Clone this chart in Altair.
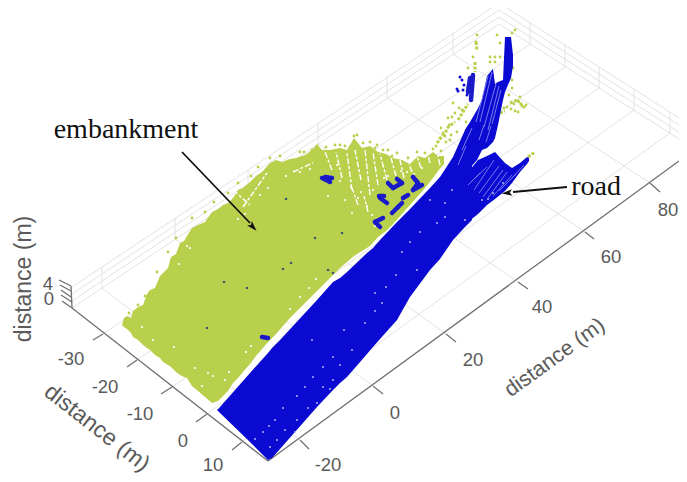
import altair as alt
import pandas as pd

W, H = 671, 466
GREEN = "#b8d04c"
BLUE = "#0a0ad2"
GRID = "#e2e2e2"
AXIS = "#707070"
TEXT = "#5a5a5a"

# --- picture-space geometry of the 3-D box -----------------------------
right_ticks = [(300, 440), (373, 386), (446, 334), (518, 282), (585, 232), (650, 183)]
right_ticks_end = [(309, 449), (383, 394), (456, 342), (528, 289), (594, 239), (660, 192)]
left_wall_base = [(102, 288), (175, 239), (248, 191), (318, 144), (387, 98), (453, 54)]
left_ticks = [(103, 334), (137, 360), (172, 387), (207, 414), (242, 442)]
left_ticks_end = [(93, 340), (127, 367), (161, 394), (196, 422), (232, 450)]
right_wall_base = [(530, 44), (565, 67), (599, 88), (634, 110), (670, 133)]
wall_height = [0, 7, 14, 21]
z_ticks = [(72, 308, 62, 301), (72, 302, 61, 295), (71, 297, 61, 290), (71, 291, 60, 285), (71, 286, 59, 280)]

grid = []
for a, b in zip(right_ticks, left_wall_base):
    grid.append((a[0], a[1], b[0], b[1]))
    grid.append((b[0], b[1], b[0], b[1] - 21))
for a, b in zip(left_ticks, right_wall_base):
    grid.append((a[0], a[1], b[0], b[1]))
    grid.append((b[0], b[1], b[0], b[1] - 21))
for h in wall_height:
    grid.append((72, 308 - h, 499, 24 - h))
    grid.append((499, 24 - h, 679, 139 - h))
axes = [(268, 461, 72, 308), (268, 461, 679, 161), (72, 308, 71, 286)]
for a, b in zip(right_ticks + left_ticks, right_ticks_end + left_ticks_end):
    axes.append((a[0], a[1], b[0], b[1]))
axes += z_ticks

tick_text = ["-30", "-20", "-10", "0", "10", "-20", "0", "20", "40", "60", "80", "4", "0"]
tick_x = [71, 105, 140, 183, 213, 328, 395, 473, 542, 611, 668, 48, 49]
tick_y = [359, 387, 414, 441, 465, 465, 413, 360, 307, 257, 210, 284, 299]

# --- embankment and road outlines: x, upper y, lower y -----------------
emb = [(122, 325, 325), (124, 318, 327), (127, 316, 329), (131, 318, 333), (133, 311, 337), (138, 307, 340),
       (143, 305, 345), (147, 294, 348), (150, 290, 350), (155, 288, 355), (160, 276, 358), (163, 273, 362),
       (168, 268, 365), (171, 257, 367), (176, 254, 372), (180, 243, 375), (184, 241, 377), (187, 236, 378),
       (192, 228, 386), (198, 225, 391), (205, 222, 397), (212, 212, 403), (218, 209, 401), (223, 205, 396),
       (228, 203, 391), (233, 198, 383), (238, 190, 378), (243, 188, 372), (250, 182, 364), (256, 176, 356),
       (262, 172, 349), (270, 163, 340), (276, 160, 334), (282, 162, 327), (290, 159, 318), (296, 158, 312),
       (305, 155, 303), (312, 150, 296), (317, 144, 291), (322, 150, 286), (330, 150, 278), (340, 148, 268),
       (347, 150, 262), (354, 138, 256), (362, 148, 251), (370, 146, 246), (378, 152, 237), (386, 154, 231),
       (393, 158, 224), (402, 160, 214), (410, 164, 205), (418, 156, 196), (425, 158, 188), (433, 152, 178),
       (438, 156, 171), (444, 156, 164)]
road_body = [(217, 410, 410), (220, 407, 413), (250, 373, 442), (268, 353, 460), (272, 348, 458), (280, 340, 449),
             (317, 300, 407), (333, 282, 390), (340, 278, 383), (347, 272, 377), (367, 253, 354), (373, 248, 347),
             (380, 240, 339), (397, 222, 320), (410, 209, 297), (430, 188, 270), (440, 177, 259), (453, 157, 240),
             (465, 130, 227), (472, 120, 220)]
road_arm = [(465, 130, 172), (470, 122, 168), (477, 110, 160), (482, 100, 150), (487, 76, 148), (493, 69, 142),
            (495, 84, 138), (498, 82, 125), (503, 80, 100), (505, 37, 92), (511, 37, 78), (513, 55, 66)]
road_fan = [(468, 172, 222), (478, 160, 214), (487, 156, 205), (495, 152, 199), (505, 163, 191), (512, 168, 183),
            (520, 163, 172), (527, 157, 164), (529, 158, 161)]

# stripes of light seen inside the scanned far part of the road
stripes = [(476, 122, 488, 76), (480, 122, 492, 72), (484, 127, 496, 84), (488, 130, 499, 86), (492, 124, 501, 90),
           (479, 140, 484, 125), (486, 142, 491, 126), (473, 180, 487, 167), (474, 190, 494, 160), (479, 193, 499, 166),
           (483, 197, 503, 170), (488, 198, 507, 172), (493, 196, 512, 175), (499, 191, 516, 174), (468, 185, 480, 173),
           (462, 150, 472, 128), (458, 165, 466, 146), (512, 178, 524, 165)]

# white gaps that cut into the embankment from its far edge
white_gaps = [(233, 190, 250, 205), (243, 207, 267, 173), (293, 172, 313, 163), (332, 170, 325, 152), (342, 178, 336, 152),
              (352, 190, 347, 153), (361, 180, 355, 150), (370, 195, 365, 150), (378, 185, 373, 152), (387, 180, 380, 154),
              (396, 176, 391, 158), (404, 178, 400, 160), (412, 172, 409, 164), (421, 168, 417, 156), (430, 163, 428, 155),
              (358, 205, 352, 188), (368, 212, 364, 196), (440, 165, 438, 156)]

green_tufts = [(528, 157, 535, 152), (517, 100, 525, 108), (510, 103, 517, 100), (500, 113, 505, 111),
               (437, 143, 447, 130), (447, 128, 455, 122), (458, 120, 468, 104), (476, 42, 477, 50), (475, 62, 475, 72)]
green_x = [477, 476, 473, 468, 497, 500, 490, 495, 500, 490, 495, 515, 512, 505, 513, 512, 512, 509, 453, 452, 457, 448,
           450, 440, 445, 462, 466, 518, 522, 504, 357, 350, 377, 383, 397, 417, 433, 300, 312, 270, 340, 354, 363, 370,
           388, 425, 441, 408, 392, 375, 345, 335, 326, 304, 280, 258, 251, 238, 228, 214, 205, 192, 176, 168, 157, 145, 138, 129,
           443, 449, 455, 459, 446, 451, 441, 436, 520, 514, 526, 507, 511, 515, 519]
green_y = [35, 42, 57, 68, 35, 43, 57, 57, 57, 62, 62, 30, 33, 57, 68, 80, 88, 95, 103, 117, 132, 118,
           140, 138, 136, 110, 122, 112, 106, 108, 135, 147, 145, 150, 153, 152, 149, 152, 150, 158, 145, 136, 143, 142,
           150, 153, 151, 158, 156, 148, 146, 145, 147, 152, 156, 167, 176, 183, 193, 202, 212, 218, 238, 252, 272, 296, 305, 313,
           133, 125, 113, 108, 142, 135, 128, 146, 97, 104, 105, 107, 109, 111, 102]

white_x = [310, 300, 286, 340, 351, 361, 373, 384, 396, 407, 414, 345, 358, 367, 380, 388, 401, 422, 375, 352, 328, 245, 238,
           260, 268, 190, 208, 195, 202, 213, 174, 153, 142, 316, 309, 300, 290, 251, 246, 168, 229, 225, 179, 187, 330, 337, 372]
white_y = [169, 172, 176, 181, 187, 192, 190, 178, 185, 172, 174, 200, 198, 206, 196, 176, 171, 168, 226, 213, 196, 214, 219,
           195, 188, 248, 373, 368, 386, 376, 347, 340, 327, 279, 288, 297, 309, 346, 352, 262, 372, 380, 264, 246, 176, 165, 215]

blue_blobs = [(388, 183, 393, 188), (393, 188, 402, 183), (402, 183, 397, 179), (413, 177, 418, 183), (418, 183, 413, 190),
              (413, 190, 422, 185), (380, 198, 387, 203), (379, 196, 384, 196), (403, 198, 408, 195), (392, 213, 398, 207),
              (398, 207, 402, 203), (383, 218, 375, 222), (375, 222, 380, 227), (322, 178, 330, 182), (325, 177, 332, 178),
              (262, 337, 268, 338), (473, 75, 471, 100), (470, 78, 468, 92)]
dark_x = [286, 315, 342, 291, 283, 328, 333, 224, 207, 247, 457, 462, 463, 467, 460, 458, 464]
dark_y = [199, 238, 233, 263, 269, 270, 273, 282, 328, 288, 89, 80, 90, 95, 77, 91, 85]
dark_kind = ["spot"] * 10 + ["road"] * 7

speck_x = [255, 263, 269, 275, 283, 297, 305, 313, 323, 333, 330, 340, 365, 375, 382, 375, 417, 270, 277, 295, 297, 308,
           317, 323, 333, 445, 437, 445, 465, 482, 493, 488, 503, 344, 352, 402, 410, 420, 312, 285, 430, 452, 396, 386]
speck_y = [439, 432, 426, 420, 408, 396, 387, 377, 367, 357, 389, 365, 323, 311, 303, 293, 270, 447, 440, 432, 420, 408,
           403, 387, 380, 203, 223, 217, 220, 200, 193, 199, 183, 330, 350, 252, 242, 232, 340, 430, 200, 190, 275, 287]

axis_title = ["distance (m)", "distance (m)", "distance (m)"]
title_x = [97, 555, 24]
title_y = [428, 358, 279]
title_size = [23, 21.5, 23]
title_angle = [38, 324, 270]

notes = ["embankment", "road"]
note_x = [126, 596]
note_y = [130, 187]
arrows = [(182, 152, 250, 223), (567, 187, 513, 192)]
arrow_tip = [(253, 227), (507, 193)]
arrow_angle = [137, 265]

# --- chart -------------------------------------------------------------
X = alt.X("x:Q", axis=None, scale=alt.Scale(domain=[8, 8 + W], range=[0, W]))
Y = alt.Y("y:Q", axis=None, scale=alt.Scale(domain=[8, 8 + H], range=[0, H]))


def segs(rows):
    return pd.DataFrame(rows, columns=["x", "y", "x2", "y2"])


def rule(rows, color, width, cap="butt"):
    return alt.Chart(segs(rows)).mark_rule(color=color, strokeWidth=width, strokeCap=cap).encode(
        x=X, y=Y, x2="x2:Q", y2="y2:Q")


def area(rows, color):
    df = pd.DataFrame(rows, columns=["x", "y", "y2"])
    return alt.Chart(df).mark_area(color=color, opacity=1).encode(x=X, y=Y, y2="y2:Q")


def pts(xs, ys, color, size, shape="circle"):
    df = pd.DataFrame({"x": xs, "y": ys})
    return alt.Chart(df).mark_point(filled=True, color=color, size=size, shape=shape, opacity=1).encode(x=X, y=Y)


ticks_df = pd.DataFrame({"x": tick_x, "y": tick_y, "t": tick_text})
tick_layer = alt.Chart(ticks_df).mark_text(font="Liberation Sans", fontSize=18.5, color=TEXT).encode(x=X, y=Y, text="t:N")

title_layers = [
    alt.Chart(pd.DataFrame({"x": [a], "y": [b], "t": [t]})).mark_text(
        font="Liberation Sans", fontSize=s, color=TEXT, angle=ang).encode(x=X, y=Y, text="t:N")
    for a, b, t, s, ang in zip(title_x, title_y, axis_title, title_size, title_angle)
]

note_layer = alt.Chart(pd.DataFrame({"x": note_x, "y": note_y, "t": notes})).mark_text(
    font="Liberation Serif", fontSize=28, color="#111111").encode(x=X, y=Y, text="t:N")

HEAD = "M0,-1 L0.62,1 L0,0.55 L-0.62,1 Z"
head_layers = [
    alt.Chart(pd.DataFrame({"x": [p[0]], "y": [p[1]]})).mark_point(
        filled=True, color="#111111", shape=HEAD, size=110, angle=ang, opacity=1).encode(x=X, y=Y)
    for p, ang in zip(arrow_tip, arrow_angle)
]

dark_df = pd.DataFrame({"x": dark_x, "y": dark_y, "k": dark_kind})
dark_spots = alt.Chart(dark_df[dark_df.k == "spot"]).mark_point(filled=True, color="#3f5a6e", size=7, opacity=1).encode(x=X, y=Y)
road_dots = alt.Chart(dark_df[dark_df.k == "road"]).mark_point(filled=True, color=BLUE, size=9, opacity=1).encode(x=X, y=Y)

far_tufts = alt.Chart(segs(green_tufts)).mark_rule(color=GREEN, strokeWidth=3, strokeDash=[3, 1.5]).encode(
    x=X, y=Y, x2="x2:Q", y2="y2:Q")
gap_layer = alt.Chart(segs(white_gaps)).mark_rule(color="#ffffff", strokeWidth=1.4, strokeDash=[6, 2, 3, 2]).encode(
    x=X, y=Y, x2="x2:Q", y2="y2:Q")

chart = alt.layer(
    rule(grid, GRID, 1),
    rule(axes, AXIS, 1.3),
    area(emb, GREEN),
    far_tufts,
    pts(green_x, green_y, GREEN, 8),
    gap_layer,
    pts(white_x, white_y, "#ffffff", 5),
    rule(blue_blobs, "#1a1ac8", 4.5, "round"),
    dark_spots,
    road_dots,
    area(road_body, BLUE),
    area(road_arm, BLUE),
    area(road_fan, BLUE),
    rule(stripes, "#8585ee", 0.9),
    pts(speck_x, speck_y, "#a9b4e8", 4),
    tick_layer,
    *title_layers,
    note_layer,
    rule(arrows, "#111111", 1.8),
    *head_layers,
).properties(
    width=W, height=H, padding=0, autosize=alt.AutoSizeParams(type="none"),
    background="white",
).configure_view(stroke=None)

chart.save("out.html", embed_options={"renderer": "svg", "actions": False})
